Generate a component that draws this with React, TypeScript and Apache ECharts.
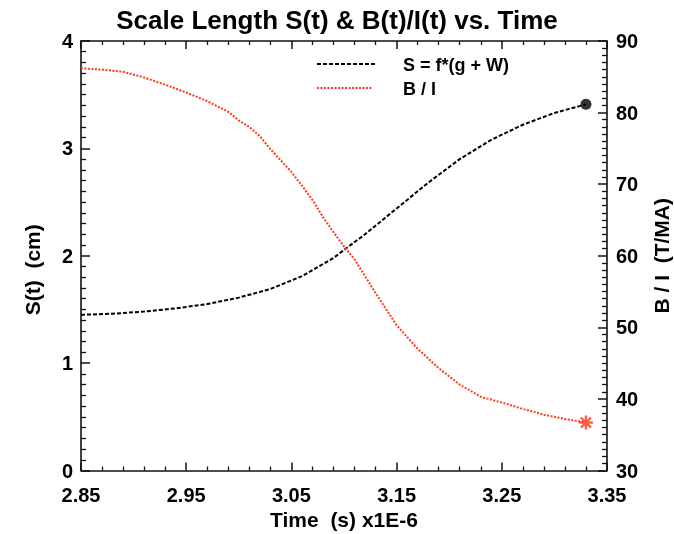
import React, { useEffect, useRef } from "react";
import * as echarts from "echarts";

const titleText = "Scale Length S(t) & B(t)/I(t) vs. Time";
const xName = "Time  (s) x1E-6";
const yLeftName = "S(t)  (cm)";
const yRightName = "B / I  (T/MA)";
const legendS = "S = f*(g + W)";
const legendB = "B / I";

const timeS = [2.85, 2.88, 2.91, 2.94, 2.97, 3.0, 3.03, 3.06, 3.09, 3.12, 3.15, 3.18, 3.21, 3.24, 3.27, 3.3, 3.33];
const scaleS = [1.45, 1.46, 1.48, 1.51, 1.55, 1.61, 1.69, 1.81, 1.98, 2.2, 2.44, 2.68, 2.9, 3.08, 3.22, 3.33, 3.41];

const timeB = [2.85, 2.87, 2.89, 2.91, 2.93, 2.95, 2.97, 2.99, 3.0, 3.01, 3.02, 3.03, 3.04, 3.05, 3.06, 3.07, 3.08, 3.09, 3.1, 3.11, 3.13, 3.15, 3.17, 3.19, 3.21, 3.23, 3.25, 3.27, 3.29, 3.31, 3.33];
const bOverI = [86.2, 86.0, 85.7, 84.9, 83.9, 82.8, 81.6, 80.1, 78.9, 78.0, 76.7, 74.9, 73.3, 71.7, 69.8, 67.8, 65.4, 63.3, 61.3, 59.5, 54.8, 50.3, 47.0, 44.3, 42.0, 40.3, 39.5, 38.6, 37.8, 37.2, 36.7];

const xTicks = { min: 2.85, max: 3.35, interval: 0.1, minorSplit: 5 };
const yLeftTicks = { min: 0, max: 4, interval: 1, minorSplit: 10 };
const yRightTicks = { min: 30, max: 90, interval: 10, minorSplit: 10 };

const RED = "#ff3a1a";
const INK = "#111111";
const FONT = "'Liberation Sans', Arial, Helvetica, sans-serif";

const asteriskPath =
  "path://M-7,-1.2L7,-1.2L7,1.2L-7,1.2Z M-1.2,-7L1.2,-7L1.2,7L-1.2,7Z " +
  "M-4.15,-5.85L5.85,4.15L4.15,5.85L-5.85,-4.15Z M5.85,-4.15L-4.15,5.85L-5.85,4.15L4.15,-5.85Z";

function buildOption() {
  const tick = (len: number) => ({ show: true, inside: true, length: len, lineStyle: { color: INK, width: 1.5 } });
  const minor = (split: number, len: number) => ({
    show: true,
    splitNumber: split,
    length: len,
    lineStyle: { color: INK, width: 1.3 },
  });
  const axisLine = () => ({ show: true, onZero: false, lineStyle: { color: INK, width: 1.6 } });
  const labelStyle = () => ({ fontSize: 20, fontWeight: "bold", color: "#000", fontFamily: FONT });
  const nameStyle = () => ({ fontSize: 21, fontWeight: "bold", color: "#000", fontFamily: FONT });
  const sData = timeS.map((t, i) => [t, scaleS[i]]);
  const bData = timeB.map((t, i) => [t, bOverI[i]]);
  const x0: any = {
    type: "value",
    min: xTicks.min,
    max: xTicks.max,
    interval: xTicks.interval,
    position: "bottom",
    axisLine: axisLine(),
    axisTick: tick(8),
    minorTick: minor(xTicks.minorSplit, 4),
    splitLine: { show: false },
    axisLabel: { ...labelStyle(), margin: 14, formatter: (v: number) => v.toFixed(2) },
    name: xName,
    nameLocation: "middle",
    nameGap: 38,
    nameTextStyle: nameStyle(),
  };
  const x1: any = {
    type: "value",
    min: xTicks.min,
    max: xTicks.max,
    interval: xTicks.interval,
    position: "top",
    axisLine: axisLine(),
    axisTick: tick(8),
    minorTick: minor(xTicks.minorSplit, 4),
    splitLine: { show: false },
    axisLabel: { show: false },
  };
  const y0: any = {
    type: "value",
    position: "left",
    min: yLeftTicks.min,
    max: yLeftTicks.max,
    interval: yLeftTicks.interval,
    axisLine: axisLine(),
    axisTick: tick(9),
    minorTick: minor(yLeftTicks.minorSplit, 5),
    splitLine: { show: false },
    axisLabel: { ...labelStyle(), margin: 8 },
    name: yLeftName,
    nameLocation: "middle",
    nameRotate: 90,
    nameGap: 38,
    nameTextStyle: { ...nameStyle(), padding: [0, 28, 0, 0] },
  };
  const y1: any = {
    type: "value",
    position: "right",
    min: yRightTicks.min,
    max: yRightTicks.max,
    interval: yRightTicks.interval,
    axisLine: axisLine(),
    axisTick: tick(9),
    minorTick: minor(yRightTicks.minorSplit, 5),
    splitLine: { show: false },
    axisLabel: { ...labelStyle(), margin: 9 },
    name: yRightName,
    nameLocation: "middle",
    nameRotate: 90,
    nameGap: 44,
    nameTextStyle: nameStyle(),
  };
  return {
    animation: false,
    title: {
      text: titleText,
      left: "center",
      top: 2,
      textStyle: { fontSize: 26, fontWeight: "bold", color: "#000", fontFamily: FONT },
    },
    grid: { left: 81, right: 67, top: 41, bottom: 63.5, containLabel: false, outerBoundsMode: "none" },
    xAxis: [x0, x1],
    yAxis: [y0, y1],
    series: [
      {
        name: legendS,
        type: "line",
        xAxisIndex: 0,
        yAxisIndex: 0,
        data: sData,
        symbol: "none",
        lineStyle: { color: "#000", width: 2, type: [4, 2] },
      },
      {
        name: legendB,
        type: "line",
        xAxisIndex: 0,
        yAxisIndex: 1,
        data: bData,
        symbol: "none",
        lineStyle: { color: RED, width: 2, type: [2, 1.5] },
      },
      {
        type: "scatter",
        xAxisIndex: 0,
        yAxisIndex: 0,
        data: [sData[sData.length - 1]],
        symbol: "circle",
        symbolSize: 11,
        itemStyle: { color: "#000" },
      },
      {
        type: "scatter",
        xAxisIndex: 0,
        yAxisIndex: 1,
        data: [bData[bData.length - 1]],
        symbol: asteriskPath,
        symbolSize: 14,
        itemStyle: { color: RED },
      },
    ],
    graphic: [
      {
        type: "line",
        shape: { x1: 317, y1: 64, x2: 377, y2: 64 },
        style: { stroke: "#000", lineWidth: 2, lineDash: [4, 2] },
      },
      {
        type: "text",
        x: 403,
        y: 65,
        style: { text: legendS, fontSize: 18, fontWeight: "bold", fill: "#000", fontFamily: FONT, verticalAlign: "middle" },
      },
      {
        type: "line",
        shape: { x1: 317, y1: 88, x2: 373, y2: 88 },
        style: { stroke: RED, lineWidth: 2, lineDash: [2, 1.5] },
      },
      {
        type: "text",
        x: 403,
        y: 89,
        style: { text: legendB, fontSize: 18, fontWeight: "bold", fill: "#000", fontFamily: FONT, verticalAlign: "middle" },
      },
    ],
  };
}

export default function App() {
  const ref = useRef<HTMLDivElement>(null);
  useEffect(() => {
    if (!ref.current) return;
    const chart = echarts.init(ref.current, undefined, { renderer: "svg" });
    chart.setOption(buildOption());
    return () => chart.dispose();
  }, []);
  return <div ref={ref} style={{ position: "fixed", left: 0, top: 0, width: 674, height: 534 }} />;
}
